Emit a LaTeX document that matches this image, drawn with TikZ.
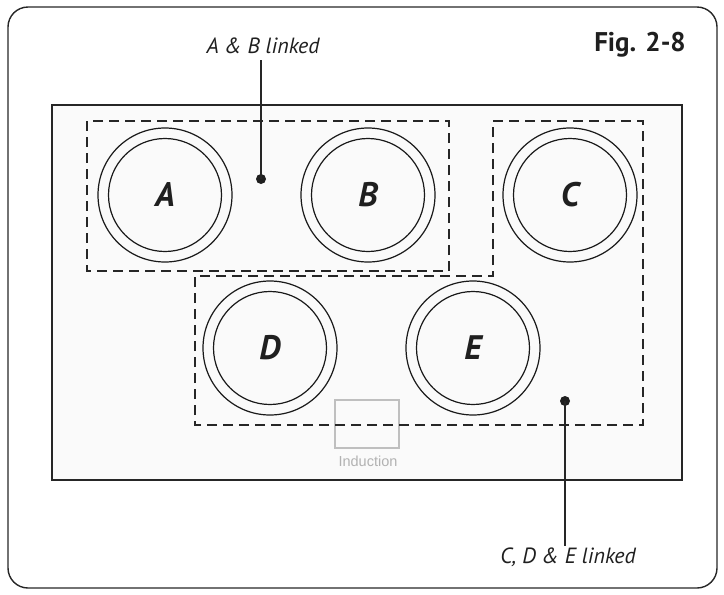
\documentclass[tikz,border=0pt]{standalone}
\usepackage{fontspec}
\setmainfont{PT Sans}
\newfontfamily\indfont{Liberation Sans}
\begin{document}
\begin{tikzpicture}[x=1pt,y=-1pt,
  frame/.style={line width=1.4pt,draw=black!85},
  zone/.style={line width=1.8pt,draw=black!85,dash pattern=on 10pt off 6pt},
  ring/.style={line width=1.2pt,draw=black!90},
  burner/.style={font=\fontsize{34}{34}\selectfont\bfseries\itshape,text=black!88,inner sep=0pt},
  callout/.style={font=\fontsize{22}{22}\selectfont\itshape,text=black!88,inner sep=1pt},
  leader/.style={line width=1.2pt,draw=black!85},
  dotm/.style={circle,fill=black!88,inner sep=0pt,minimum size=10pt}]
\useasboundingbox (0,0) rectangle (724,595);
% outer frame
\draw[frame,rounded corners=20pt] (8,7) rectangle (717,588);
% cooktop
\draw[frame,fill=black!2] (52,105) rectangle (682,480);
% induction box
\draw[black!25,line width=1.2pt] (335,400) rectangle (399,448);
\node[font=\fontsize{14.5}{14.5}\selectfont\indfont,text=black!30] (ind) at (368,461) {Induction};
% zones
\draw[zone] (87,121) rectangle (449,271);
\draw[zone] (493,121) -- (643,121) -- (643,425) -- (195,425) -- (195,276) -- (493,276) -- cycle;
% burners
\foreach \n/\x/\y in {A/165/195,B/368/195,C/570/195,D/270/348,E/473/348}{
  \draw[ring] (\x,\y) circle[radius=67];
  \draw[ring] (\x,\y) circle[radius=56.5];
  \node[burner] (\n) at (\x,\y) {\n};
}
% callouts
\node[callout] (abl) at (263,46) {A \& B linked};
\node[dotm] (abd) at (261,179) {};
\draw[leader] (abd.center |- 0,60) -- (abd.center);
\node[callout] (cdel) at (568,557) {C, D \& E linked};
\node[dotm] (cded) at (565,401) {};
\draw[leader] (cded.center) -- (cded.center |- cdel.north);
% figure label
\node[font=\fontsize{27}{27}\selectfont\bfseries,text=black!88,anchor=east,inner sep=0pt] (fig) at (686,45) {Fig. 2-8};
\end{tikzpicture}
\end{document}
